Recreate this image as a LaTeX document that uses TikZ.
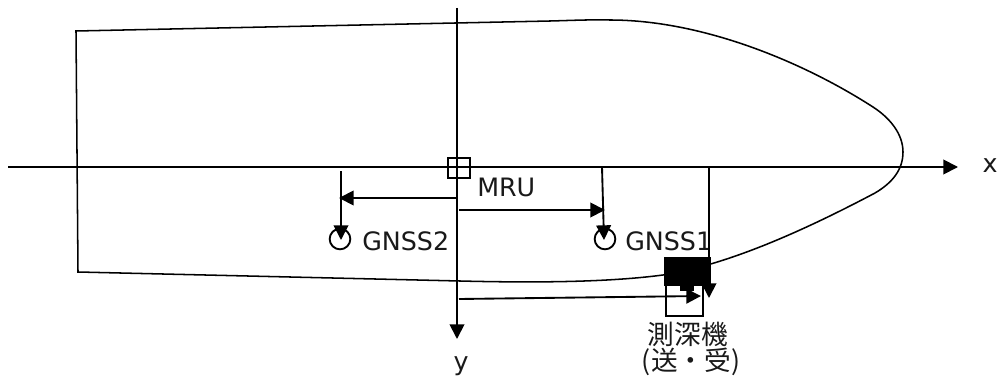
\documentclass[tikz,border=0pt]{standalone}
\usepackage{fontspec}
\setmainfont{DejaVu Sans}
\newfontfamily\cjk{Noto Sans CJK JP}
\usetikzlibrary{arrows.meta}
\tikzset{
  ln/.style={line width=1.4pt,black},
  hull/.style={line width=1.15pt,black},
  arr/.style={ln,-{Triangle[length=11pt,width=11pt]}},
  lbl/.style={font=\fontsize{19pt}{20pt}\selectfont,inner sep=0pt,text=black!90},
  jp/.style={font=\cjk\fontsize{20pt}{20pt}\selectfont,inner sep=0pt,align=center,text=black!90},
  circ/.style={circle,draw,line width=1.4pt,minimum size=15.5pt,inner sep=0pt},
}
\begin{document}
\begin{tikzpicture}[x=0.75pt,y=-0.75pt]
\useasboundingbox (0,0) rectangle (1000,378);
% hull
\draw[hull] (76,31) -- (78,272) -- (460,281)
  .. controls (540,283) and (610,282) .. (663,275)
  .. controls (720,266) and (790,238) .. (875,193)
  .. controls (892,183) and (903,170) .. (903,152)
  .. controls (903,134) and (890,118) .. (873,107)
  .. controls (800,60) and (700,20) .. (610,20)
  .. controls (590,19.5) and (570,20.5) .. (550,21) -- cycle;
% axes
\coordinate (xs) at (8,167); \coordinate (xe) at (958,167);
\coordinate (ys) at (457,8); \coordinate (ye) at (457,339);
\draw[arr] (xs) -- (xe);
\draw[arr] (ys) -- (ye);
\node[lbl] (xl) at (990,166) {x};
\node[lbl] (yl) at (461,366) {y};
% MRU
\node[draw,line width=1.4pt,minimum width=16.5pt,minimum height=15pt,inner sep=0pt] (mru) at (459,168) {};
\node[lbl,anchor=west] (mrul) at (477,187) {MRU};
% GNSS
\node[circ] (g2) at (340,239) {};
\node[circ] (g1) at (605,239) {};
\node[lbl,anchor=west] (g2l) at (362,241) {GNSS2};
\node[lbl,anchor=west] (g1l) at (625,241) {GNSS1};
\coordinate (a1) at (341,171);
\coordinate (a1e) at (341,240);
\coordinate (a2) at (457,198);
\coordinate (a2e) at (339,198);
\coordinate (a3) at (459,210);
\coordinate (a3e) at (605,210);
\coordinate (a4) at (602,167);
\coordinate (a4e) at (604,240);
\draw[arr] (a1) -- (a1e);
\draw[arr] (a2) -- (a2e);
\draw[arr] (a3) -- (a3e);
\draw[arr] (a4) -- (a4e);
% transducer
\node[draw,line width=1.4pt,minimum width=27.5pt,minimum height=43.5pt,inner sep=0pt,anchor=north west] (box) at (665,257) {};
\fill (664,257) rectangle (711,286);
\fill (680,284) rectangle (694,291);
\coordinate (v1) at (709,167);
\coordinate (v1e) at (709,298);
\draw[arr] (v1) -- (v1e);
\coordinate (h1) at (459,299);
\coordinate (h1e) at (701,296);
\draw[arr] (h1) -- (h1e);
\node[jp] (tl) at (691,349) {測深機\hspace*{5pt}\\(送・受)};
\end{tikzpicture}
\end{document}
